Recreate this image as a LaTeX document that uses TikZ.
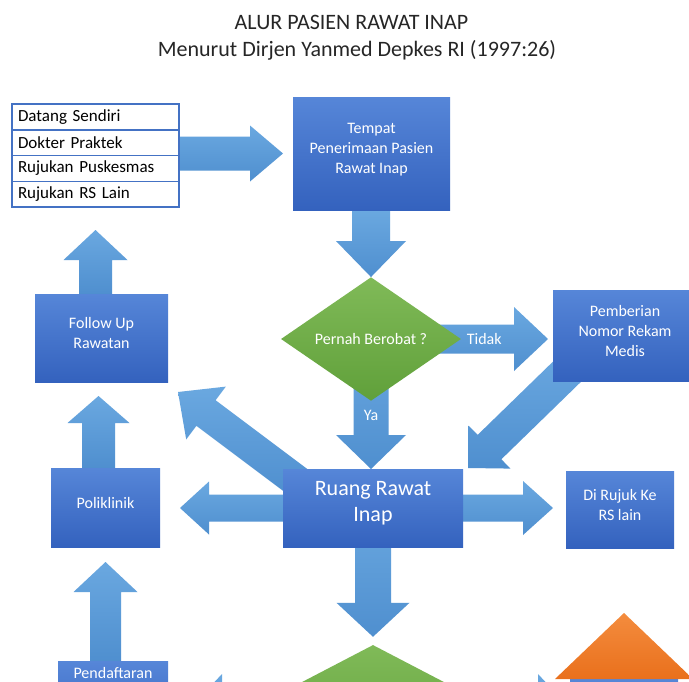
\documentclass[tikz,border=0pt]{standalone}
\usepackage{fontspec}
\setmainfont{Carlito}
\usetikzlibrary{positioning, shapes.geometric, calc, backgrounds}
\definecolor{boxtop}{HTML}{5686D8}
\definecolor{boxbot}{HTML}{3462BE}
\definecolor{arrowtop}{HTML}{6AA8E0}
\definecolor{arrowbot}{HTML}{4F8FCF}
\definecolor{greentop}{HTML}{80BA58}
\definecolor{greenbot}{HTML}{60A03A}
\definecolor{listblue}{HTML}{4472C4}
\definecolor{rooftop}{HTML}{F48C3E}
\definecolor{roofbot}{HTML}{E9701C}
\definecolor{titlegrey}{HTML}{262626}
\tikzset{
  bluebox/.style={top color=boxtop, bottom color=boxbot, text=white, align=center, inner sep=0pt, outer sep=0pt, text depth=10pt, font=\fontsize{16pt}{20pt}\selectfont},
  listrow/.style={draw=listblue, line width=1.5pt, fill=white, minimum width=167pt, minimum height=25.75pt, text width=155pt, inner xsep=6pt, inner ysep=0pt, outer sep=0pt, align=left, font=\fontsize{17pt}{20pt}\selectfont},
  decision/.style={diamond, top color=greentop, bottom color=greenbot, text=white, inner sep=0pt, font=\fontsize{16pt}{20pt}\selectfont},
  flow/.style={top color=arrowtop, bottom color=arrowbot},
  flowlabel/.style={text=white, font=\fontsize{16pt}{20pt}\selectfont},
  title/.style={text=titlegrey, font=\fontsize{22pt}{26pt}\selectfont},
}
% block arrow: start, tip, shaft half width, head half width, head length
\newcommand{\blockarrow}[5]{%
  \coordinate (ba-s) at #1;
  \coordinate (ba-t) at #2;
  \coordinate (ba-h) at ($(ba-t)!#5!(ba-s)$);
  \path[flow] ($(ba-s)!#3!90:(ba-t)$) -- ($(ba-h)!#3!90:(ba-t)$) -- ($(ba-h)!#4!90:(ba-t)$) -- (ba-t)
    -- ($(ba-h)!#4!-90:(ba-t)$) -- ($(ba-h)!#3!-90:(ba-t)$) -- ($(ba-s)!#3!-90:(ba-t)$) -- cycle;
}

\begin{document}
\begin{tikzpicture}[x=1pt, y=-1pt]
  \useasboundingbox (0,0) rectangle (689,681);
  % judul
  \node[title, anchor=base] (judul) at (351.5,29) {ALUR PASIEN RAWAT INAP};
  \node[title, anchor=base] (sumber) at (357,56) {Menurut Dirjen Yanmed Depkes RI (1997:26)};
  % asal pasien
  \node[listrow, anchor=north west] (datang) at (12,104) {Datang Sendiri};
  \node[listrow, below=0pt of datang] (dokter) {Dokter Praktek};
  \node[listrow, below=0pt of dokter] (puskesmas) {Rujukan Puskesmas};
  \node[listrow, below=0pt of puskesmas] (rslain) {Rujukan RS Lain};
  % alur utama
  \node[bluebox, minimum width=157pt, minimum height=113pt] (tempat) at (371.5,153.5) {Tempat\\Penerimaan Pasien\\Rawat Inap};
  \node[decision, minimum width=180pt, minimum height=114pt] (berobat) at (371,339) {Pernah Berobat ?};
  \node[bluebox, minimum width=144pt, minimum height=91pt] (pemberian) at (625,335.5) {Pemberian\\Nomor Rekam\\Medis};
  \node[bluebox, minimum width=133pt, minimum height=88pt] (followup) at (101.5,338) {Follow Up\\Rawatan};
  \node[bluebox, minimum width=180pt, minimum height=78pt, text depth=13pt, font=\fontsize{22pt}{26pt}\selectfont] (ruang) at (373,508) {Ruang Rawat\\Inap};
  \node[bluebox, minimum width=109pt, minimum height=79pt] (poliklinik) at (105.5,507.5) {Poliklinik};
  \node[bluebox, minimum width=108pt, minimum height=77pt] (dirujuk) at (620,509.5) {Di Rujuk Ke\\RS lain};
  \node[bluebox, minimum width=110pt, anchor=north, inner ysep=6pt, text depth=59pt] (pendaftaran) at (113,661) {Pendaftaran};
  \node[decision, minimum width=234pt, minimum height=122pt] (cabang) at (373,706) {};
  \node[bluebox, minimum width=108pt, minimum height=80pt, anchor=north] (rumah) at (624,679) {};
  \shade[top color=rooftop, bottom color=roofbot] ($(rumah.north)+(-69,0)$) -- ($(rumah.north)+(0,-66)$) -- ($(rumah.north)+(69,0)$) -- cycle;
  % label cabang
  \node[flowlabel] (tidak) at ($(berobat.east)+(23,0)$) {Tidak};
  \node[flowlabel] (ya) at ($(berobat.south)+(0,14)$) {Ya};
  % panah
  \begin{scope}[on background layer]
    \fill[white] (0,0) rectangle (689,681);
    \blockarrow{(tempat.west -| datang.east)}{($(tempat.west)+(-10,0)$)}{17pt}{28pt}{33pt}
    \blockarrow{(tempat.south -| berobat.north)}{(berobat.north)}{19pt}{35pt}{36pt}
    \blockarrow{(berobat.center)}{($(pemberian.west |- berobat.east)+(-5,0)$)}{14.5pt}{32pt}{34pt}
    \blockarrow{(berobat.center)}{(ruang.north -| berobat.south)}{17.5pt}{35pt}{34pt}
    \blockarrow{($(pemberian.south west)+(25,-20)$)}{($(ruang.north east)+(5,-1)$)}{17pt}{30pt}{30pt}
    \blockarrow{($(ruang.north west)+(15,13)$)}{($(followup.south east)+(10,10)$)}{16pt}{33pt}{35pt}
    \blockarrow{(ruang.center)}{($(poliklinik.east |- ruang.west)+(20,0)$)}{13.5pt}{26.5pt}{29pt}
    \blockarrow{(ruang.center)}{($(dirujuk.west |- ruang.east)+(-13,0)$)}{13.5pt}{27pt}{30pt}
    \blockarrow{(ruang.center)}{($(cabang.north)+(0,-8)$)}{18pt}{36.5pt}{34pt}
    \blockarrow{(followup.north -| rslain.south)}{($(rslain.south)+(0,23)$)}{16.5pt}{32pt}{30pt}
    \blockarrow{($(poliklinik.north)+(-7,0)$)}{($(poliklinik.north |- followup.south)+(-7,14)$)}{16.5pt}{31pt}{27pt}
    \blockarrow{(pendaftaran.north -| poliklinik.south)}{($(poliklinik.south)+(0,15)$)}{15.5pt}{32pt}{30pt}
    \blockarrow{(cabang.center)}{($(pendaftaran.east |- cabang.west)+(24,0)$)}{15pt}{32pt}{30pt}
    \blockarrow{(cabang.center)}{($(rumah.west |- cabang.east)+(-2,0)$)}{15pt}{32pt}{30pt}
  \end{scope}
\end{tikzpicture}
\end{document}
